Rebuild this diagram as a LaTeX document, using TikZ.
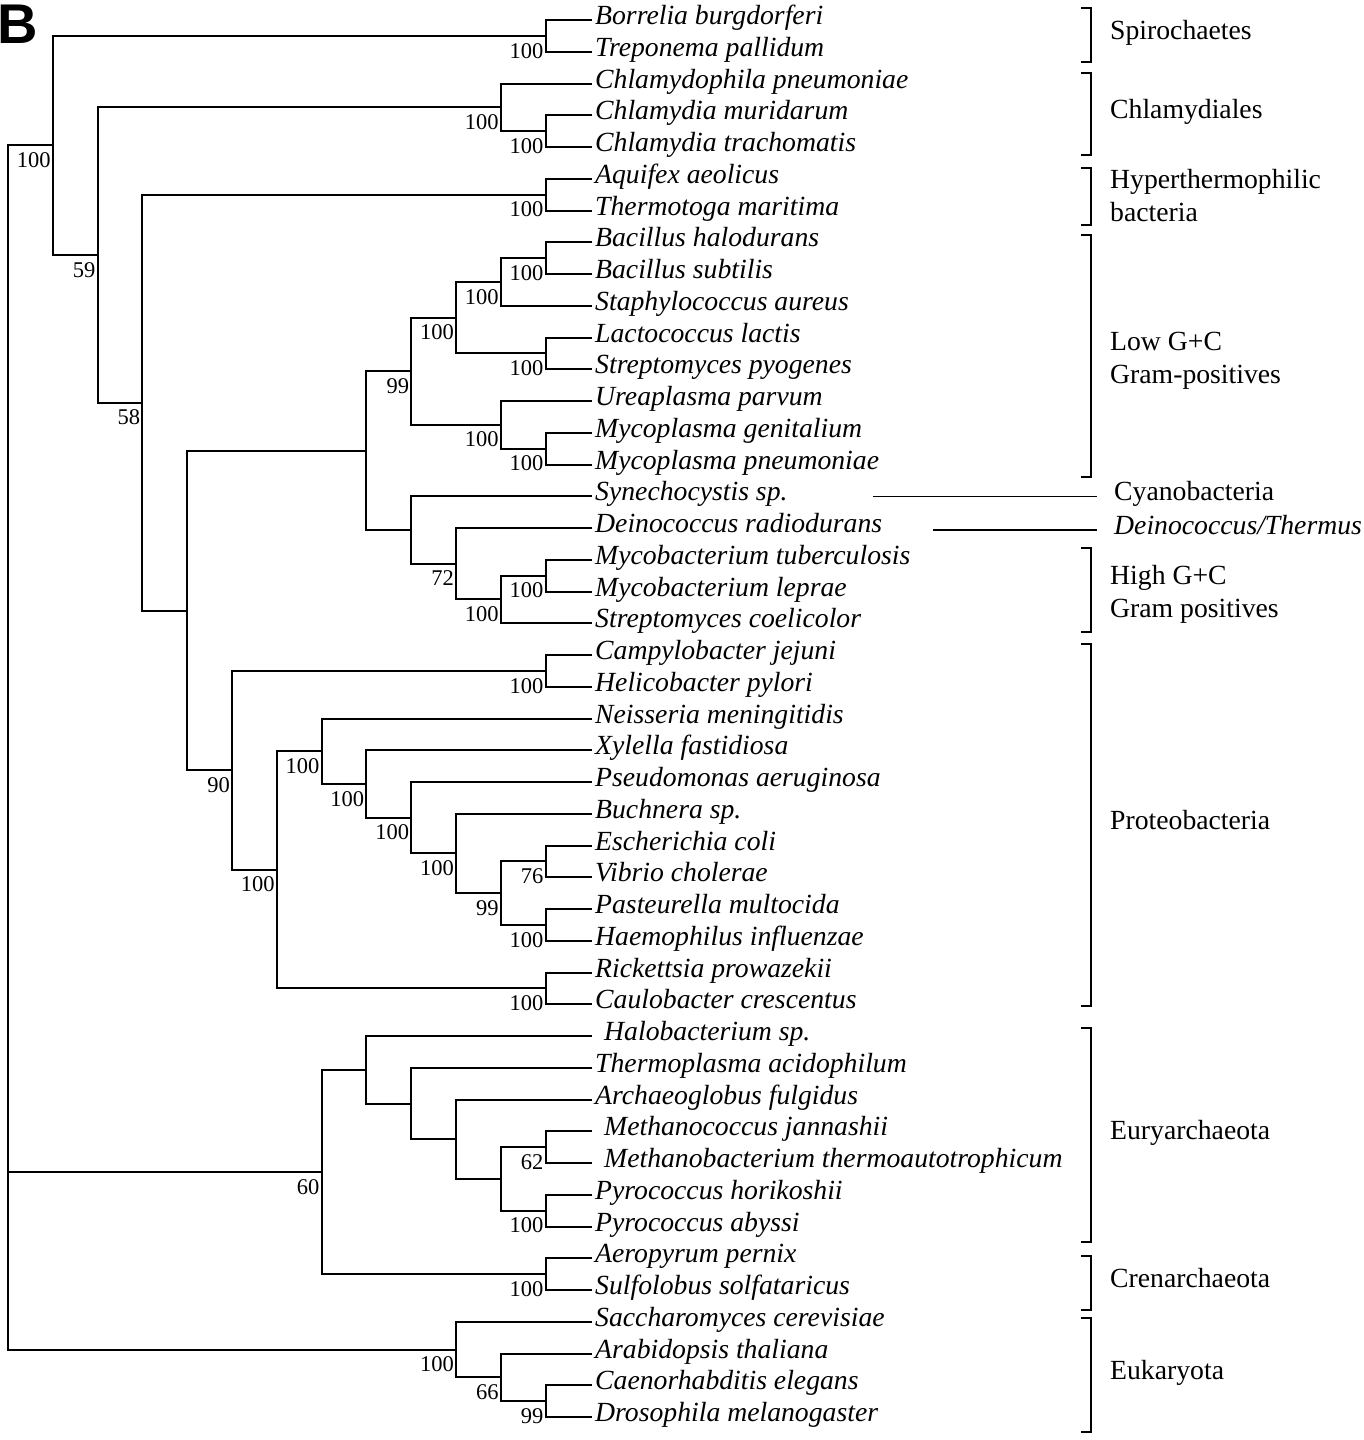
\documentclass[tikz,border=0pt]{standalone}
\usepackage{fontspec}
\setmainfont{Liberation Serif}
\newfontfamily\panelfont{Liberation Sans}
\usepackage{tikz}
\usetikzlibrary{positioning,calc}

% group bracket on the right: top y, bottom y
\newcommand{\grpbracket}[2]{\draw[bracket] (1081,#1) -- (1091,#1) -- (1091,#2) -- (1081,#2);}

\begin{document}
\begin{tikzpicture}[
    x=1pt, y=-1pt,
    taxon/.style={anchor=west, inner xsep=3pt, inner ysep=0pt, text height=0.95em, text depth=0.05em, font=\fontsize{27.7}{33}\selectfont\itshape},
    boot/.style={font=\fontsize{22.5}{26}\selectfont, inner sep=0pt, xshift=-2pt, yshift=-7pt},
    group/.style={anchor=west, inner sep=0pt, text height=0.95em, text depth=0.05em, font=\fontsize{27.7}{33}\selectfont},
    grouptwo/.style={anchor=west, inner sep=0pt, align=left, font=\fontsize{27.7}{33}\selectfont},
    branch/.style={line width=2pt},
    bracket/.style={line width=1.5pt}
]
\fill[white] (0,0) rectangle (1364,1440);
\useasboundingbox (0,0) rectangle (1364,1440);

% Panel letter
\node[anchor=north west, inner sep=0pt, font=\panelfont\bfseries\fontsize{56}{56}\selectfont] (panel) at (-3,5) {B};

% Leaves
\foreach \sp [count=\i] in {Borrelia burgdorferi, Treponema pallidum, Chlamydophila pneumoniae,
    Chlamydia muridarum, Chlamydia trachomatis, Aquifex aeolicus, Thermotoga maritima,
    Bacillus halodurans, Bacillus subtilis, Staphylococcus aureus, Lactococcus lactis,
    Streptomyces pyogenes, Ureaplasma parvum, Mycoplasma genitalium, Mycoplasma pneumoniae,
    Synechocystis sp., Deinococcus radiodurans, Mycobacterium tuberculosis, Mycobacterium leprae,
    Streptomyces coelicolor, Campylobacter jejuni, Helicobacter pylori, Neisseria meningitidis,
    Xylella fastidiosa, Pseudomonas aeruginosa, Buchnera sp., Escherichia coli, Vibrio cholerae,
    Pasteurella multocida, Haemophilus influenzae, Rickettsia prowazekii, Caulobacter crescentus,
    {\hspace{9pt}Halobacterium sp.}, Thermoplasma acidophilum, Archaeoglobus fulgidus,
    {\hspace{9pt}Methanococcus jannashii}, {\hspace{9pt}Methanobacterium thermoautotrophicum},
    Pyrococcus horikoshii, Pyrococcus abyssi, Aeropyrum pernix, Sulfolobus solfataricus,
    Saccharomyces cerevisiae, Arabidopsis thaliana, Caenorhabditis elegans, Drosophila melanogaster}
  \node[taxon] (l\i) at (592,{20+31.75*(\i-1)}) {\sp};

% Internal nodes - bacteria
\coordinate (root) at (8,1171.9);
\coordinate[label={[boot]below left:100}] (bac) at (52.8,145.4);
\coordinate[label={[boot]below left:100}] (spiro) at (545.6,35.9);
\coordinate[label={[boot]below left:59}] (n59) at (97.6,254.9);
\coordinate[label={[boot]below left:100}] (chlam) at (500.8,107.3);
\coordinate[label={[boot]below left:100}] (chlsub) at (545.6,131.1);
\coordinate[label={[boot]below left:58}] (n58) at (142.4,402.5);
\coordinate[label={[boot]below left:100}] (aqui) at (545.6,194.6);
\coordinate (gpos) at (187.2,610.5);
\coordinate (gram) at (366.4,450.6);
\coordinate[label={[boot]below left:99}] (lowgc) at (411.2,371.3);
\coordinate[label={[boot]below left:100}] (firm) at (456,317.7);
\coordinate[label={[boot]below left:100}] (bacst) at (500.8,281.9);
\coordinate[label={[boot]below left:100}] (bacil) at (545.6,258.1);
\coordinate[label={[boot]below left:100}] (lacto) at (545.6,353.4);
\coordinate[label={[boot]below left:100}] (molli) at (500.8,424.8);
\coordinate[label={[boot]below left:100}] (mycop) at (545.6,448.6);
\coordinate (cdh) at (411.2,530);
\coordinate[label={[boot]below left:72}] (dh) at (456,563.7);
\coordinate[label={[boot]below left:100}] (hgc) at (500.8,599.4);
\coordinate[label={[boot]below left:100}] (mycob) at (545.6,575.6);
\coordinate[label={[boot]below left:90}] (prot) at (232,770.3);
\coordinate[label={[boot]below left:100}] (campy) at (545.6,670.9);
\coordinate[label={[boot]below left:100}] (pbg) at (276.8,869.8);
\coordinate[label={[boot]below left:100}] (pb1) at (321.6,751.2);
\coordinate[label={[boot]below left:100}] (pb2) at (366.4,784);
\coordinate[label={[boot]below left:100}] (pb3) at (411.2,817.7);
\coordinate[label={[boot]below left:100}] (pb4) at (456,853.4);
\coordinate[label={[boot]below left:99}] (pb5) at (500.8,893.1);
\coordinate[label={[boot]below left:76}] (ev) at (545.6,861.4);
\coordinate[label={[boot]below left:100}] (ph) at (545.6,924.9);
\coordinate[label={[boot]below left:100}] (rc) at (545.6,988.4);

% Internal nodes - archaea and eukaryota
\coordinate[label={[boot]below left:60}] (arch) at (321.6,1171.9);
\coordinate (eu1) at (366.4,1069.7);
\coordinate (eu2) at (411.2,1103.5);
\coordinate (eu3) at (456,1139.2);
\coordinate (eu4) at (500.8,1178.9);
\coordinate[label={[boot]below left:62}] (meth) at (545.6,1147.1);
\coordinate[label={[boot]below left:100}] (pyro) at (545.6,1210.6);
\coordinate[label={[boot]below left:100}] (creno) at (545.6,1274.1);
\coordinate[label={[boot]below left:100}] (euk) at (456,1349.5);
\coordinate[label={[boot]below left:66}] (euk66) at (500.8,1377.3);
\coordinate[label={[boot]below left:99}] (euk99) at (545.6,1401.1);

% Branches - bacteria
\draw[branch] (l1.west) -| (spiro) |- (l2.west);
\draw[branch] (l4.west) -| (chlsub) |- (l5.west);
\draw[branch] (l3.west) -| (chlam) |- (chlsub);
\draw[branch] (l6.west) -| (aqui) |- (l7.west);
\draw[branch] (l8.west) -| (bacil) |- (l9.west);
\draw[branch] (bacil) -| (bacst) |- (l10.west);
\draw[branch] (l11.west) -| (lacto) |- (l12.west);
\draw[branch] (bacst) -| (firm) |- (lacto);
\draw[branch] (l14.west) -| (mycop) |- (l15.west);
\draw[branch] (l13.west) -| (molli) |- (mycop);
\draw[branch] (firm) -| (lowgc) |- (molli);
\draw[branch] (l18.west) -| (mycob) |- (l19.west);
\draw[branch] (mycob) -| (hgc) |- (l20.west);
\draw[branch] (l17.west) -| (dh) |- (hgc);
\draw[branch] (l16.west) -| (cdh) |- (dh);
\draw[branch] (lowgc) -| (gram) |- (cdh);
\draw[branch] (l21.west) -| (campy) |- (l22.west);
\draw[branch] (l27.west) -| (ev) |- (l28.west);
\draw[branch] (l29.west) -| (ph) |- (l30.west);
\draw[branch] (ev) -| (pb5) |- (ph);
\draw[branch] (l26.west) -| (pb4) |- (pb5);
\draw[branch] (l25.west) -| (pb3) |- (pb4);
\draw[branch] (l24.west) -| (pb2) |- (pb3);
\draw[branch] (l23.west) -| (pb1) |- (pb2);
\draw[branch] (l31.west) -| (rc) |- (l32.west);
\draw[branch] (pb1) -| (pbg) |- (rc);
\draw[branch] (campy) -| (prot) |- (pbg);
\draw[branch] (gram) -| (gpos) |- (prot);
\draw[branch] (aqui) -| (n58) |- (gpos);
\draw[branch] (chlam) -| (n59) |- (n58);
\draw[branch] (spiro) -| (bac) |- (n59);

% Branches - archaea
\draw[branch] (l36.west) -| (meth) |- (l37.west);
\draw[branch] (l38.west) -| (pyro) |- (l39.west);
\draw[branch] (meth) -| (eu4) |- (pyro);
\draw[branch] (l35.west) -| (eu3) |- (eu4);
\draw[branch] (l34.west) -| (eu2) |- (eu3);
\draw[branch] (l33.west) -| (eu1) |- (eu2);
\draw[branch] (l40.west) -| (creno) |- (l41.west);
\draw[branch] (eu1) -| (arch) |- (creno);

% Branches - eukaryota and root
\draw[branch] (l44.west) -| (euk99) |- (l45.west);
\draw[branch] (l43.west) -| (euk66) |- (euk99);
\draw[branch] (l42.west) -| (euk) |- (euk66);
\draw[branch] (bac) -| (root) |- (euk);
\draw[branch] (root) -- (arch);

% Groups
\node[group] (spiroch) at (1110,35) {Spirochaetes};
\node[group] (chlamyd) at (1110,114) {Chlamydiales};
\node[grouptwo] (hyper) at (1110,196) {Hyperthermophilic\\bacteria};
\node[grouptwo] (lowgcl) at (1110,361) {Low G+C\\Gram-positives};
\node[group] (cyano) at (1114,496.25) {Cyanobacteria};
\node[group, font=\fontsize{27.7}{33}\selectfont\itshape] (deino) at (1114,530) {Deinococcus/Thermus};
\node[grouptwo] (highgcl) at (1110,594) {High G+C\\Gram positives};
\node[group] (proteo) at (1110,825) {Proteobacteria};
\node[group] (eury) at (1110,1135) {Euryarchaeota};
\node[group] (cren) at (1110,1283) {Crenarchaeota};
\node[group] (eukar) at (1110,1375) {Eukaryota};

\grpbracket{8}{62}
\grpbracket{73}{155}
\grpbracket{168}{225}
\grpbracket{235}{477}
\grpbracket{548}{632}
\grpbracket{644}{1006}
\grpbracket{1028}{1242}
\grpbracket{1256}{1310}
\grpbracket{1318}{1432}

% Single-taxon groups
\coordinate (cyanostart) at (873,496.25);
\coordinate (deinostart) at (933,530);
\draw[bracket] (cyanostart) -- ([xshift=-17pt]cyano.west);
\draw[bracket] (deinostart) -- ([xshift=-17pt]deino.west);
\end{tikzpicture}
\end{document}
